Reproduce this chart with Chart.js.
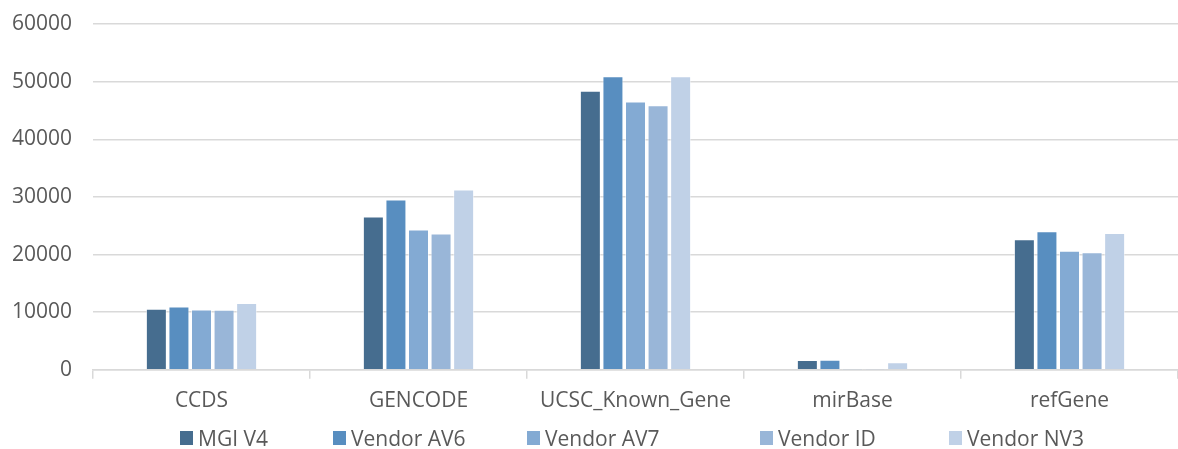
<!DOCTYPE html>
<html>
<head>
<meta charset="utf-8">
<script src="https://cdn.jsdelivr.net/npm/chart.js@4"></script>
<style>
  html, body { margin: 0; padding: 0; background: #fff; }
  #wrap { position: relative; width: 1178px; height: 449px; }
  #legend {
    position: absolute; left: 0; top: 426px; width: 1178px; height: 24px;
    font-family: "Open Sans", sans-serif; font-size: 21px; color: #595959;
    line-height: 24px;
  }
  #legend span.item { position: absolute; top: 0; display: flex; align-items: center; white-space: nowrap; }
  #legend i { display: inline-block; width: 13px; height: 14px; margin-right: 5px; }
</style>
</head>
<body>
<div id="wrap">
  <canvas id="chart" width="1178" height="449"></canvas>
  <div id="legend"></div>
</div>
<script>
// 数据
const categories = ['CCDS', 'GENCODE', 'UCSC_Known_Gene', 'mirBase', 'refGene'];
const seriesNames = ['MGI V4', 'Vendor AV6', 'Vendor AV7', 'Vendor ID', 'Vendor NV3'];
const mgiV4 = [10600, 26600, 48400, 1700, 22650];
const vendorAV6 = [11000, 29550, 50950, 1750, 24050];
const vendorAV7 = [10450, 24350, 46550, 60, 20650];
const vendorID = [10400, 23650, 45900, 60, 20400];
const vendorNV3 = [11600, 31300, 50950, 1300, 23750];
const yTicks = [0, 10000, 20000, 30000, 40000, 50000, 60000];

const seriesValues = [mgiV4, vendorAV6, vendorAV7, vendorID, vendorNV3];
const colors = ['#466d8f', '#588ec0', '#83aad3', '#99b6d8', '#c0d1e7'];
const legendLeft = [180, 333, 527, 760, 949];
const textColor = '#595959';
const gridColor = '#d9d9d9';
const font = { family: '"Open Sans", sans-serif', size: 21 };

// 图例（HTML）
document.getElementById('legend').innerHTML = seriesNames.map((name, i) =>
  `<span class="item" style="left:${legendLeft[i]}px"><i style="background:${colors[i]}"></i>${name}</span>`
).join('');

new Chart(document.getElementById('chart'), {
  type: 'bar',
  data: {
    labels: categories,
    datasets: seriesNames.map((name, i) => ({
      label: name,
      data: seriesValues[i],
      backgroundColor: colors[i],
      borderColor: 'rgba(255,255,255,0.5)',
      borderWidth: 1,
      categoryPercentage: 0.52,
      barPercentage: 0.93
    }))
  },
  options: {
    responsive: false,
    animation: false,
    layout: { padding: { top: 24, right: 0, bottom: 25, left: 0 } },
    plugins: {
      legend: { display: false },
      tooltip: { enabled: false }
    },
    scales: {
      x: {
        grid: {
          offset: true,
          drawOnChartArea: false,
          color: gridColor,
          lineWidth: 1.5,
          tickLength: 9
        },
        border: { display: true, color: gridColor, width: 1.5 },
        ticks: { color: textColor, font: font, padding: 10 }
      },
      y: {
        min: 0,
        max: 60000,
        afterFit: scale => {
          scale.width = 93;
          scale.paddingTop = 0;
          scale.paddingBottom = 0;
        },
        afterBuildTicks: scale => { scale.ticks = yTicks.map(v => ({ value: v })); },
        grid: { color: gridColor, lineWidth: 1.5, drawTicks: false },
        border: { display: false },
        ticks: { color: textColor, font: font, padding: 21, callback: v => String(v) }
      }
    }
  }
});
</script>
</body>
</html>
